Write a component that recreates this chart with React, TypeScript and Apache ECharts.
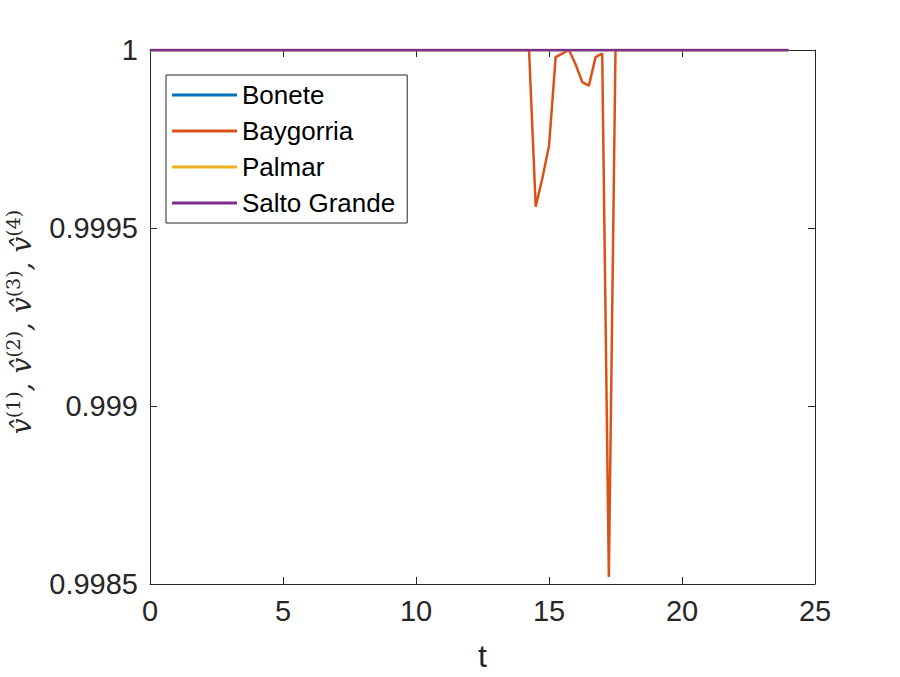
import React, { useEffect, useRef } from "react";
import * as echarts from "echarts";

const seriesNames = ["Bonete", "Baygorria", "Palmar", "Salto Grande"];
const seriesColors = ["#0072BD", "#D95319", "#EDB120", "#7E2F8E"];

const boneteT = [0, 24];
const boneteV = [1, 1];

const baygorriaT = [0, 14.25, 14.5, 14.75, 15, 15.25, 15.5, 15.75, 16, 16.25, 16.5, 16.75, 17, 17.25, 17.5, 24];
const baygorriaV = [1, 1, 0.99956, 0.99964, 0.99973, 0.99998, 0.99999, 1.0, 0.99996, 0.99991, 0.9999, 0.99998, 0.99999, 0.99852, 1, 1];

const palmarT = [0, 24];
const palmarV = [1, 1];

const saltoT = [0, 24];
const saltoV = [1, 1];

const xTicks = { min: 0, max: 25, interval: 5 };
const yTicks = { min: 0.9985, max: 1, interval: 0.0005 };

const zip = (t: number[], v: number[]) => t.map((x, i) => [x, v[i]]);

export default function App() {
  const ref = useRef<HTMLDivElement>(null);
  useEffect(() => {
    if (!ref.current) return;
    const chart = echarts.init(ref.current, undefined, { renderer: "svg" });
    const axisColor = "#262626";
    const font = "'Liberation Sans', Arial, Helvetica, sans-serif";
    const serif = "'DejaVu Serif', 'Liberation Serif', serif";
    const baseX = {
      type: "value" as const,
      min: xTicks.min,
      max: xTicks.max,
      interval: xTicks.interval,
      axisLine: { show: true, onZero: false, lineStyle: { color: axisColor, width: 1 } },
      axisTick: { show: true, inside: true, length: 7, lineStyle: { color: axisColor } },
      splitLine: { show: false },
    };
    const baseY = {
      type: "value" as const,
      min: yTicks.min,
      max: yTicks.max,
      interval: yTicks.interval,
      axisLine: { show: true, onZero: false, lineStyle: { color: axisColor, width: 1 } },
      axisTick: { show: true, inside: true, length: 7, lineStyle: { color: axisColor } },
      splitLine: { show: false },
    };
    const data = [zip(boneteT, boneteV), zip(baygorriaT, baygorriaV), zip(palmarT, palmarV), zip(saltoT, saltoV)];
    chart.setOption({
      animation: false,
      backgroundColor: "#ffffff",
      grid: { left: 150, top: 50, width: 665, height: 534, containLabel: false },
      xAxis: [
        {
          ...baseX,
          position: "bottom",
          name: "t",
          nameLocation: "middle",
          nameGap: 56,
          nameTextStyle: { fontSize: 32, color: axisColor, fontFamily: font },
          axisLabel: { show: true, fontSize: 29, color: axisColor, fontFamily: font, margin: 12 },
        },
        { ...baseX, position: "top", axisLabel: { show: false } },
      ],
      yAxis: [
        {
          ...baseY,
          position: "left",
          axisLabel: {
            show: true,
            fontSize: 29,
            color: axisColor,
            fontFamily: font,
            margin: 12,
            formatter: (v: number) => String(parseFloat(v.toFixed(4))),
          },
        },
        { ...baseY, position: "right", axisLabel: { show: false } },
      ],
      legend: {
        orient: "vertical",
        left: 166,
        top: 75,
        data: seriesNames.map((n) => ({ name: n, icon: "rect" })),
        itemWidth: 65,
        itemHeight: 3,
        itemGap: 10,
        padding: [7, 12, 7, 6],
        borderColor: axisColor,
        borderWidth: 1,
        backgroundColor: "#ffffff",
        textStyle: { fontSize: 26, color: "#000000", fontFamily: font, lineHeight: 26 },
      },
      graphic: [
        {
          type: "text",
          x: 19,
          y: 322,
          rotation: Math.PI / 2,
          style: {
            text: "{v|v̂}{s|(1)}{v|, v̂}{s|(2)}{v|, v̂}{s|(3)}{v|, v̂}{s|(4)}",
            align: "center",
            verticalAlign: "middle",
            fill: "#262626",
            rich: {
              v: { fontSize: 28, fontFamily: serif, fontStyle: "italic", lineHeight: 32, verticalAlign: "bottom", fill: "#262626" },
              s: { fontSize: 19, fontFamily: serif, lineHeight: 32, verticalAlign: "top", fill: "#262626" },
            },
          },
        },
      ],
      series: data.map((d, i) => ({
        name: seriesNames[i],
        type: "line",
        data: d,
        xAxisIndex: 0,
        yAxisIndex: 0,
        symbol: "none",
        showSymbol: false,
        clip: true,
        lineStyle: { color: seriesColors[i], width: 2.5 },
        itemStyle: { color: seriesColors[i] },
        z: 2 + i,
      })),
    });
    return () => chart.dispose();
  }, []);
  return <div ref={ref} style={{ position: "fixed", left: 0, top: 0, width: 900, height: 677 }} />;
}
